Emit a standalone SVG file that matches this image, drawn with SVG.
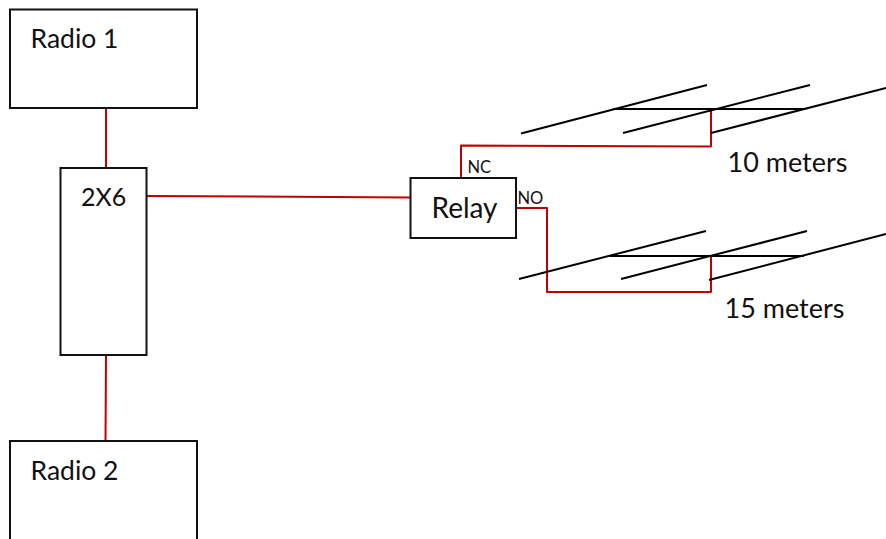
<svg xmlns="http://www.w3.org/2000/svg" width="886" height="539" viewBox="0 0 886 539">
<style>
.box{fill:#fff;stroke:#111;stroke-width:2}
.ant{fill:none;stroke:#000;stroke-width:2}
.wire{fill:none;stroke:#c00000;stroke-width:2;stroke-linejoin:round}
text{font-family:Lato,"Open Sans",sans-serif;fill:#111}
.l{font-size:26.500px}
.m{font-size:27px}
.s{font-size:16.500px}
</style>
<rect width="886" height="539" fill="#fff"/>
<g id="connectors">
<path class="wire" d="M106 108V168"/>
<path class="wire" d="M106 355L105.500 441"/>
<path class="wire" d="M147 196L410 197.500"/>
<path class="wire" d="M461 178V145.500L711 146.500V109"/>
<path class="wire" d="M517 208H547V292H711V256"/>
</g>
<g id="radio1"><rect class="box" x="10" y="9.500" width="187" height="98.500"/><text class="l" x="30.500" y="48">Radio 1</text></g>
<g id="switch2x6"><rect class="box" x="60.500" y="168" width="86" height="187"/><text class="l" x="81" y="206" style="font-size:25px">2X6</text></g>
<g id="radio2"><rect class="box" x="10" y="441" width="187" height="110"/><text class="l" x="30.500" y="480">Radio 2</text></g>
<g id="relay"><rect class="box" x="410.500" y="178" width="105.500" height="60"/><text class="l" x="431.500" y="218" style="font-size:28px">Relay</text></g>
<g id="antenna10">
<path class="ant" d="M521 133.500L707 85M623 133L810 85M711 133L886 88M613 109H805"/>
<text class="m" x="727.500" y="172">10 meters</text>
</g>
<g id="antenna15">
<path class="ant" d="M519 279L706 231M621 279L807 231M709 280L886 234M610 256H804"/>
<text class="m" x="724.500" y="318">15 meters</text>
</g>
<g id="labels">
<text class="s" x="467.500" y="173">NC</text>
<text class="s" x="517.500" y="204">NO</text>
</g>
</svg>
